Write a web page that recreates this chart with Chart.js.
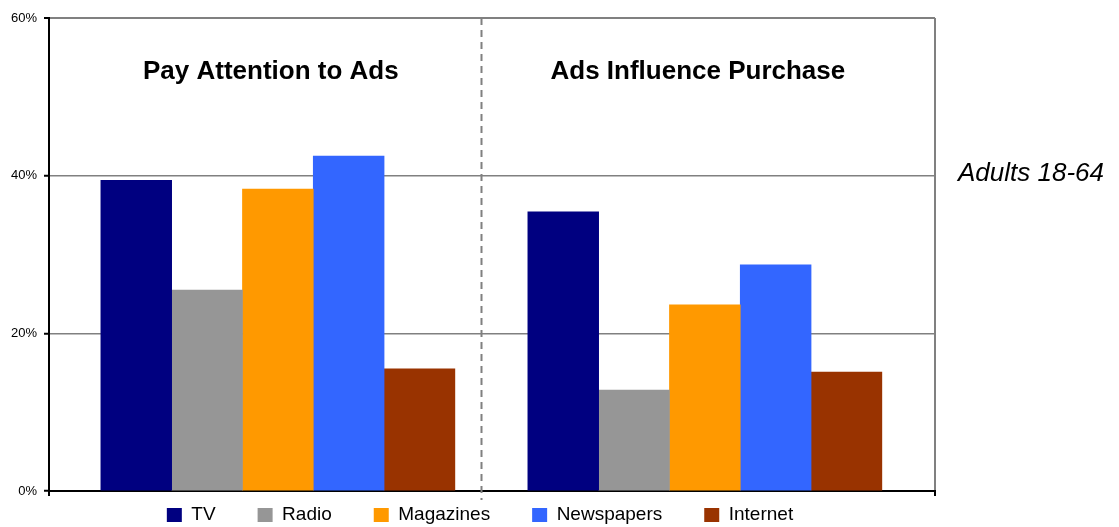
<!DOCTYPE html>
<html>
<head>
<meta charset="utf-8">
<title>Ad attention and influence by medium</title>
<script src="https://cdn.jsdelivr.net/npm/chart.js@4.4.1/dist/chart.umd.min.js"></script>
<style>
  html, body { margin: 0; padding: 0; background: #fff; }
  #wrap { width: 1119px; height: 527px; }
</style>
</head>
<body>
<div id="wrap"><canvas id="chart"></canvas></div>
<script>
const groups = ['Pay Attention to Ads', 'Ads Influence Purchase'];
const media = ['TV', 'Radio', 'Magazines', 'Newspapers', 'Internet'];
const payAttention = [39.4, 25.5, 38.3, 42.5, 15.5];
const influencePurchase = [35.4, 12.8, 23.6, 28.7, 15.1];
const yTickLabels = ['0%', '20%', '40%', '60%'];
const sideNote = 'Adults 18-64';

const mediaColors = ['#000080', '#969696', '#FF9900', '#3366FF', '#993300'];
const GRID_GREY = '#808080';
const FONT = '"Liberation Sans", Arial, sans-serif';

// where the dashed separator sits on the x scale (between the groups)
const DIVIDER_AT = 0.476;
const TITLE_NUDGE = -7;

// legend: tight box below the plot, wide gaps between the items
const LEGEND_HEIGHT = 31;
const LEGEND_ROW_OFFSET = 9.5;
const LEGEND_SHIFT = 25;

Chart.defaults.font.family = FONT;
Chart.defaults.color = '#000';

const legendLayout = {
    id: 'legendLayout',
    afterInit(chart) {
        const legend = chart.legend;
        const fit = legend.fit;
        legend.fit = function () {
            fit.call(this);
            this.height = LEGEND_HEIGHT;
        };
        const draw = legend.draw;
        legend.draw = function () {
            const top = this.top;
            const left = this.left;
            this.top = top + LEGEND_ROW_OFFSET - this.options.labels.padding;
            this.left = left + LEGEND_SHIFT;
            draw.call(this);
            this.top = top;
            this.left = left;
        };
    }
};

const annotations = {
    id: 'annotations',
    afterDatasetsDraw(chart) {
        const {ctx, chartArea, scales} = chart;
        const x = scales.x;
        const y = scales.y;
        ctx.save();

        // dashed separator between the two groups
        const dx = Math.round(x.getPixelForValue(DIVIDER_AT)) + 0.5;
        ctx.strokeStyle = GRID_GREY;
        ctx.lineWidth = 2;
        ctx.setLineDash([7, 5]);
        ctx.beginPath();
        ctx.moveTo(dx, chartArea.top);
        ctx.lineTo(dx, chartArea.bottom + 9);
        ctx.stroke();
        ctx.setLineDash([]);

        // group headings
        ctx.fillStyle = '#000';
        ctx.textBaseline = 'alphabetic';
        ctx.textAlign = 'center';
        ctx.font = 'bold 26px ' + FONT;
        groups.forEach((name, i) => {
            ctx.fillText(name, x.getPixelForValue(i) + TITLE_NUDGE, chartArea.top + 60.5);
        });

        // population note to the right of the plot
        ctx.textAlign = 'left';
        ctx.font = 'italic 26px ' + FONT;
        ctx.fillText(sideNote, chartArea.right + 23, y.getPixelForValue(40) + 5);
        ctx.restore();
    }
};

const datasets = media.map((name, i) => ({
    label: name,
    data: [payAttention[i], influencePurchase[i]].map((v, g) => ({x: g, y: v})),
    backgroundColor: mediaColors[i],
    borderWidth: 0,
    barThickness: 70.8
}));

new Chart(document.getElementById('chart'), {
    type: 'bar',
    data: {datasets: datasets},
    options: {
        responsive: true,
        maintainAspectRatio: false,
        animation: false,
        layout: {
            padding: {top: 18, right: 184, bottom: 0, left: 0}
        },
        plugins: {
            legend: {
                position: 'bottom',
                labels: {
                    boxWidth: 15,
                    boxHeight: 14,
                    padding: 42,
                    font: {size: 19}
                }
            },
            tooltip: {enabled: false}
        },
        scales: {
            x: {
                type: 'linear',
                offset: false,
                min: -0.536,
                max: 1.539,
                afterBuildTicks: axis => {
                    axis.ticks = [{value: axis.min}, {value: axis.max}];
                },
                ticks: {display: false},
                grid: {
                    offset: false,
                    drawOnChartArea: true,
                    drawTicks: true,
                    tickLength: 5,
                    tickColor: '#000',
                    tickWidth: 2,
                    lineWidth: 2,
                    color: ctx => ctx.index === 1 ? GRID_GREY : 'rgba(0,0,0,0)'
                },
                border: {display: true, color: '#000', width: 2}
            },
            y: {
                min: 0,
                max: 60,
                afterFit: axis => { axis.width = 49; },
                ticks: {
                    stepSize: 20,
                    padding: 7,
                    font: {size: 13},
                    callback: (value) => yTickLabels[value / 20]
                },
                grid: {
                    tickLength: 5,
                    tickColor: '#000',
                    tickWidth: 2,
                    color: ctx => ctx.tick && ctx.tick.value === 0 ? 'rgba(0,0,0,0)' : GRID_GREY,
                    lineWidth: ctx => ctx.tick && ctx.tick.value === 60 ? 2 : 1.5
                },
                border: {display: true, color: '#000', width: 2}
            }
        }
    },
    plugins: [legendLayout, annotations]
});
</script>
</body>
</html>
